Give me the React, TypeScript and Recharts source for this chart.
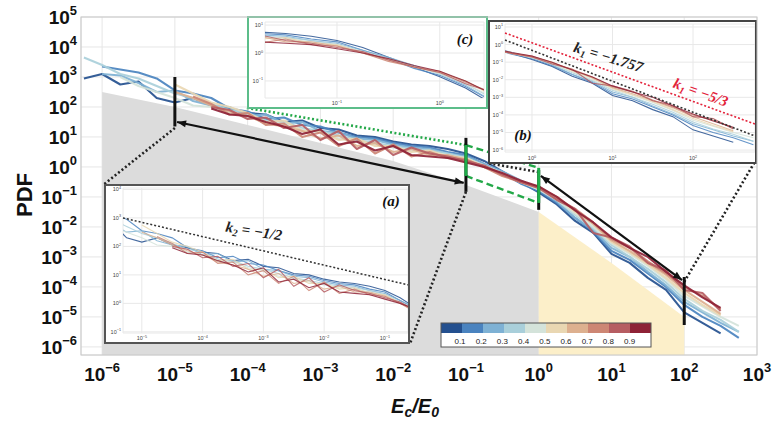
import React from "react";
import {
  ComposedChart, LineChart, Line, Area, XAxis, YAxis, CartesianGrid, ReferenceLine,
} from "recharts";

// log10(Ec/E0) sampling grid
const LOG_E = [-6.25, -6, -5.75, -5.5, -5.25, -5, -4.75, -4.5, -4.25, -4, -3.75, -3.5, -3.25, -3, -2.75, -2.5, -2.25, -2, -1.75, -1.5, -1.25, -1, -0.75, -0.5, -0.25, 0, 0.25, 0.5, 0.75, 1, 1.25, 1.5, 1.75, 2, 2.25, 2.5, 2.75, 3];

// log10(PDF) of each curve, ordered like the colorbar (blue -> red)
const P0 = [2.95, 3.1, 2.75, 2.85, 2.3, 2.15, 2.3, 2.05, 1.95, 1.8, 1.75, 1.5, 1.55, 1.3, 1.25, 1.05, 1.0, 0.85, 0.75, 0.7, 0.6, 0.45, 0.2, -0.15, -0.5, -0.85, -1.25, -1.8, -2.2, -2.9, -3.2, -3.7, -4.1, -4.85, -5.2, -5.55, null, null];
const P1 = [null, 3.35, 3.25, 3.15, 2.95, 2.55, 2.45, 2.3, 1.95, 1.85, 1.6, 1.65, 1.4, 1.35, 1.15, 1.0, 0.95, 0.8, 0.7, 0.65, 0.5, 0.4, 0.1, -0.2, -0.55, -0.8, -1.2, -1.7, -2.15, -2.8, -3.1, -3.55, -4.0, -4.6, -5.0, -5.3, -5.7, null];
const P2 = [null, 3.1, 3.05, 2.8, 2.5, 2.55, 2.2, 2.05, 2.0, 1.7, 1.75, 1.45, 1.5, 1.2, 1.15, 0.95, 0.9, 0.75, 0.65, 0.6, 0.45, 0.35, 0.1, -0.15, -0.45, -0.75, -1.15, -1.7, -2.1, -2.7, -3.0, -3.5, -3.95, -4.5, -4.85, -5.2, -5.5, null];
const P3 = [3.65, 3.4, 3.1, 2.95, 2.7, 2.45, 2.3, 2.1, 1.9, 1.8, 1.55, 1.5, 1.3, 1.2, 1.05, 0.9, 0.8, 0.7, 0.6, 0.55, 0.45, 0.3, 0.05, -0.2, -0.45, -0.75, -1.1, -1.6, -2.05, -2.6, -3.0, -3.4, -3.85, -4.4, -4.8, -5.1, -5.5, null];
const P4 = [null, null, 3.0, 2.7, 2.5, 2.3, 2.05, 2.0, 1.8, 1.7, 1.5, 1.45, 1.25, 1.15, 0.95, 0.85, 0.75, 0.65, 0.55, 0.5, 0.4, 0.3, 0.05, -0.2, -0.5, -0.75, -1.1, -1.55, -2.0, -2.55, -2.9, -3.3, -3.75, -4.3, -4.65, -5.0, -5.3, null];
const P5 = [null, null, null, null, null, 2.75, 2.45, 2.15, 2.0, 1.8, 1.5, 1.55, 1.2, 1.2, 0.9, 0.95, 0.7, 0.7, 0.5, 0.55, 0.35, 0.3, 0.0, -0.25, -0.5, -0.7, -1.0, -1.5, -1.9, -2.5, -2.85, -3.25, -3.7, -4.2, -4.6, -4.95, null, null];
const P6 = [null, null, null, null, null, 2.5, 2.3, 2.05, 1.85, 1.7, 1.45, 1.35, 1.2, 0.95, 1.05, 0.7, 0.8, 0.5, 0.6, 0.4, 0.4, 0.25, 0.0, -0.25, -0.5, -0.7, -1.0, -1.45, -1.9, -2.45, -2.8, -3.2, -3.6, -4.1, -4.5, -4.9, null, null];
const P7 = [null, null, null, null, null, null, 2.35, 2.1, 1.75, 1.8, 1.4, 1.45, 1.0, 1.15, 0.7, 0.95, 0.45, 0.75, 0.35, 0.5, 0.3, 0.25, 0.0, -0.3, -0.5, -0.65, -1.05, -1.4, -1.85, -2.4, -2.7, -3.15, -3.55, -4.0, -4.3, -4.75, null, null];
const P8 = [null, null, null, null, null, null, null, 2.0, 1.9, 1.6, 1.65, 1.3, 1.4, 0.9, 1.2, 0.6, 0.9, 0.4, 0.65, 0.45, 0.35, 0.2, 0.05, -0.25, -0.5, -0.7, -1.1, -1.4, -2.2, -2.35, -2.65, -3.2, -3.45, -4.1, -4.2, -4.8, null, null];
const P9 = [null, null, null, null, null, null, null, 1.95, 1.75, 1.7, 1.5, 1.35, 1.1, 1.25, 0.75, 0.85, 0.55, 0.7, 0.4, 0.35, 0.3, 0.15, 0.0, -0.2, -0.45, -0.65, -1.0, -1.45, -1.85, -2.35, -2.7, -3.0, -3.5, -3.95, -4.35, -4.7, null, null];
const SERIES = [P0, P1, P2, P3, P4, P5, P6, P7, P8, P9];

const COLORS = ["#24508f", "#4a83bf", "#7eb1d4", "#a9cfda", "#d4e3da", "#e9d7b2", "#ddb08f", "#cd8674", "#b65d62", "#8e2236"];
const CB_LABELS = ["0.1", "0.2", "0.3", "0.4", "0.5", "0.6", "0.7", "0.8", "0.9"];

// upper edge of the grey (x <= 0) and yellow (0 <= x <= 2) bands
const SHADE_E = [-6, -5, -4, -3, -2, -1, 0, 1, 2];
const SHADE_TOP = [2.5, 2.0, 1.4, 0.8, 0.2, -0.6, -1.5, -3.2, -5.0];

const X_TICKS = [-6, -5, -4, -3, -2, -1, 0, 1, 2, 3];
const Y_TICKS = [-6, -5, -4, -3, -2, -1, 0, 1, 2, 3, 4, 5];

const rows = LOG_E.map((x, i) => {
  const r: any = { x };
  SERIES.forEach((s, k) => { r[`s${k}`] = s[i]; });
  const j = SHADE_E.indexOf(x);
  if (j >= 0) {
    if (x <= 0) r.gray = SHADE_TOP[j];
    if (x >= 0) r.yellow = SHADE_TOP[j];
  }
  return r;
});

const SANS = "'Liberation Sans', Arial, sans-serif";
const SERIF = "'Liberation Serif', 'DejaVu Serif', serif";
const exp = (n: number) => (n < 0 ? "\u2212" + Math.abs(n) : String(n));

const makeXTick = (baseY: number, fs: number, fill: string, bold: boolean) => (p: any) => (
  <text x={p.x} y={baseY} textAnchor="middle" fontSize={fs} fontWeight={bold ? 700 : 400} fill={fill} fontFamily={SANS}>
    <tspan>10</tspan>
    <tspan dy={-fs * 0.45} fontSize={fs * 0.68}>{exp(p.payload.value)}</tspan>
  </text>
);
const makeYTick = (rightX: number, fs: number, fill: string, bold: boolean) => (p: any) => (
  <text x={rightX} y={p.y + fs * 0.36} textAnchor="end" fontSize={fs} fontWeight={bold ? 700 : 400} fill={fill} fontFamily={SANS}>
    <tspan>10</tspan>
    <tspan dy={-fs * 0.45} fontSize={fs * 0.68}>{exp(p.payload.value)}</tspan>
  </text>
);

const Arrow = (p: any) => {
  const { x1, y1, x2, y2 } = p;
  const a = Math.atan2(y2 - y1, x2 - x1);
  const head = (x: number, y: number, d: number) => {
    const L = 9, Wd = 3.5;
    const bx = x - d * L * Math.cos(a), by = y - d * L * Math.sin(a);
    const nx = -Math.sin(a) * Wd, ny = Math.cos(a) * Wd;
    return `${x},${y} ${bx + nx},${by + ny} ${bx - nx},${by - ny}`;
  };
  return (
    <g>
      <line x1={x1} y1={y1} x2={x2} y2={y2} stroke="#111" strokeWidth={2.2} />
      <polygon points={head(x1, y1, -1)} fill="#111" />
      <polygon points={head(x2, y2, 1)} fill="#111" />
    </g>
  );
};

const MARKERS = [[-5, 3.0, 1.35], [-1, 0.97, -0.83], [0, -0.1, -1.43], [2, -3.67, -5.27]];
const GREEN_BARS = [[-1, 0.73, -0.3], [0, -0.03, -1.2]];

type InsetProps = {
  box: [number, number, number, number];
  border: string;
  xDomain: [number, number];
  yDomain: [number, number];
  xTicks: number[];
  yTicks: number[];
  yAxisW: number;
  xAxisH: number;
  mTop: number;
  mRight: number;
  labelY: number;
  children?: React.ReactNode;
};

function Inset({ box, border, xDomain, yDomain, xTicks, yTicks, yAxisW, xAxisH, mTop, mRight, labelY, children }: InsetProps) {
  const [l, t, w, h] = box;
  return (
    <div style={{ position: "absolute", left: l, top: t, width: w, height: h, border: `2px solid ${border}`, background: "#fff", boxSizing: "border-box" }}>
      <LineChart width={w - 4} height={h - 4} data={rows} margin={{ top: mTop, right: mRight, bottom: 0, left: 0 }}>
        <CartesianGrid stroke="#e8e8e8" />
        <XAxis type="number" dataKey="x" domain={xDomain} allowDataOverflow ticks={xTicks} interval={0}
          tickLine={false} axisLine={false} height={xAxisH} tick={makeXTick(labelY, 5.5, "#444", false)} />
        <YAxis type="number" domain={yDomain} allowDataOverflow ticks={yTicks} interval={0}
          tickLine={false} axisLine={false} width={yAxisW} tick={makeYTick(yAxisW - 2, 5.5, "#444", false)} />
        {SERIES.map((_, k) => (
          <Line key={k} dataKey={`s${k}`} type="linear" stroke={COLORS[k]} strokeWidth={1.1} strokeOpacity={0.85}
            dot={false} isAnimationActive={false} />
        ))}
        {children}
      </LineChart>
    </div>
  );
}

export default function App() {
  const dotted = { stroke: "#222", strokeWidth: 2.6, strokeDasharray: "2 2.4", ifOverflow: "visible" as const };
  return (
    <div style={{ position: "absolute", left: 0, top: 0, width: 776, height: 422, background: "#fff", fontFamily: SANS }}>
      <ComposedChart width={776} height={422} data={rows} margin={{ top: 17, right: 19, bottom: 27, left: 11 }}>
        <XAxis type="number" dataKey="x" domain={[-6.29, 3]} allowDataOverflow ticks={X_TICKS} interval={0}
          tickLine={false} axisLine={false} height={40} tick={makeXTick(381, 19, "#111", true)} />
        <YAxis type="number" domain={[-6.27, 5]} allowDataOverflow ticks={Y_TICKS} interval={0}
          tickLine={false} axisLine={false} width={70} tick={makeYTick(77, 19, "#111", true)} />
        <Area dataKey="gray" type="linear" stroke="none" fill="#dcdcdc" fillOpacity={1} baseValue={-6.27}
          connectNulls isAnimationActive={false} />
        <Area dataKey="yellow" type="linear" stroke="none" fill="#fcefc9" fillOpacity={1} baseValue={-6.27}
          connectNulls isAnimationActive={false} />
        <CartesianGrid stroke="#e6e6e6" />
        {SERIES.map((_, k) => (
          <Line key={k} dataKey={`s${k}`} type="linear" stroke={COLORS[k]} strokeWidth={2.1} strokeOpacity={0.92}
            strokeLinejoin="round" dot={false} isAnimationActive={false} />
        ))}
        {/* zoom connectors */}
        <ReferenceLine segment={[{ x: -5, y: 1.3 }, { x: -5.97, y: -0.57 }]} {...dotted} />
        <ReferenceLine segment={[{ x: -1, y: -0.83 }, { x: -1.77, y: -5.9 }]} {...dotted} />
        <ReferenceLine segment={[{ x: 2, y: -3.83 }, { x: 2.96, y: 0.13 }]} {...dotted} />
        <ReferenceLine segment={[{ x: 0, y: -0.17 }, { x: -0.7, y: 0.13 }]} {...dotted} />
        <ReferenceLine segment={[{ x: -4.01, y: 1.97 }, { x: -1, y: 0.73 }]} stroke="#23a848" strokeWidth={2.6} strokeDasharray="2 2.4" ifOverflow="visible" />
        <ReferenceLine segment={[{ x: -1, y: 0.73 }, { x: 0, y: -0.03 }]} stroke="#23a848" strokeWidth={2.4} strokeDasharray="7 4" ifOverflow="visible" />
        <ReferenceLine segment={[{ x: -1, y: -0.3 }, { x: 0, y: -1.2 }]} stroke="#23a848" strokeWidth={2.4} strokeDasharray="7 4" ifOverflow="visible" />
        {MARKERS.map(([x, a, b], i) => (
          <ReferenceLine key={`m${i}`} segment={[{ x, y: a }, { x, y: b }]} stroke="#111" strokeWidth={3} ifOverflow="visible" />
        ))}
        {GREEN_BARS.map(([x, a, b], i) => (
          <ReferenceLine key={`g${i}`} segment={[{ x, y: a }, { x, y: b }]} stroke="#1fae4a" strokeWidth={3} ifOverflow="visible" />
        ))}
        <ReferenceLine segment={[{ x: -4.97, y: 1.5 }, { x: -1.03, y: -0.53 }]} ifOverflow="visible" shape={Arrow} />
        <ReferenceLine segment={[{ x: 0.03, y: -0.3 }, { x: 1.97, y: -3.77 }]} ifOverflow="visible" shape={Arrow} />
      </ComposedChart>

      {/* (a) */}
      <Inset box={[104, 184, 306, 160]} border="#555" xDomain={[-5.31, -0.62]} yDomain={[-1.04, 4.05]}
        xTicks={[-5, -4, -3, -2, -1]} yTicks={[-1, 0, 1, 2, 3, 4]} yAxisW={17} xAxisH={9} mTop={2} mRight={0} labelY={154}>
        <ReferenceLine segment={[{ x: -5.31, y: 3 }, { x: -0.62, y: 0.65 }]} stroke="#333" strokeWidth={1.5} strokeDasharray="2 2" ifOverflow="visible" />
      </Inset>
      {/* (b) */}
      <Inset box={[488, 20, 269, 144]} border="#444" xDomain={[-0.335, 2.77]} yDomain={[-6.11, 1.17]}
        xTicks={[0, 1, 2]} yTicks={[-6, -5, -4, -3, -2, -1, 0, 1]} yAxisW={15} xAxisH={10} mTop={2} mRight={0} labelY={138}>
        <ReferenceLine segment={[{ x: -0.335, y: 0.66 }, { x: 2.77, y: -4.52 }]} stroke="#e3223a" strokeWidth={1.6} strokeDasharray="2 2" ifOverflow="visible" />
        <ReferenceLine segment={[{ x: -0.335, y: 0.26 }, { x: 2.77, y: -5.2 }]} stroke="#333" strokeWidth={1.6} strokeDasharray="2 2" ifOverflow="visible" />
      </Inset>
      {/* (c) */}
      <Inset box={[247, 16, 241, 93]} border="#5cbd8a" xDomain={[-1.7, 0.43]} yDomain={[-1.61, 1.11]}
        xTicks={[-1, 0]} yTicks={[-1, 0, 1]} yAxisW={16} xAxisH={9} mTop={4} mRight={2} labelY={87} />

      <svg width={776} height={422} style={{ position: "absolute", left: 0, top: 0, pointerEvents: "none" }}>
        <rect x={81} y={17} width={676} height={338} fill="none" stroke="#c8c8c8" />
        <text transform="translate(32,195) rotate(-90)" textAnchor="middle" fontSize={22} fontWeight={700} fill="#111" fontFamily={SANS}>PDF</text>
        <text x={415} y={413} textAnchor="middle" fontSize={20} fontWeight={700} fontStyle="italic" fill="#111" fontFamily={SANS}>
          E<tspan fontSize={14} dy={4}>c</tspan><tspan dy={-4}>/E</tspan><tspan fontSize={14} dy={4}>0</tspan>
        </text>

        <text x={391} y={206} textAnchor="middle" fontSize={15} fontWeight={700} fontStyle="italic" fill="#111" fontFamily={SERIF}>(a)</text>
        <text x={523} y={140} textAnchor="middle" fontSize={15} fontWeight={700} fontStyle="italic" fill="#111" fontFamily={SERIF}>(b)</text>
        <text x={465} y={44} textAnchor="middle" fontSize={15} fontWeight={700} fontStyle="italic" fill="#111" fontFamily={SERIF}>(c)</text>

        <text transform="translate(253,236) rotate(9)" textAnchor="middle" fontSize={15} fontWeight={700} fontStyle="italic" fill="#222" fontFamily={SERIF}>
          k<tspan fontSize={10} dy={3}>2</tspan><tspan dy={-3}> = −1/2</tspan>
        </text>
        <text transform="translate(607,62) rotate(17)" textAnchor="middle" fontSize={15} fontWeight={700} fontStyle="italic" fill="#222" fontFamily={SERIF}>
          k<tspan fontSize={10} dy={3}>1</tspan><tspan dy={-3}> = −1.757</tspan>
        </text>
        <text transform="translate(699,97) rotate(20)" textAnchor="middle" fontSize={15} fontWeight={700} fontStyle="italic" fill="#e3223a" fontFamily={SERIF}>
          k<tspan fontSize={10} dy={3}>1</tspan><tspan dy={-3}> = −5/3</tspan>
        </text>

        {/* colorbar */}
        <rect x={441} y={323} width={210} height={24} fill="#fff" />
        {COLORS.map((c, i) => (
          <rect key={c} x={441 + i * 21} y={323} width={21} height={10} fill={c} />
        ))}
        <rect x={441} y={323} width={210} height={24} fill="none" stroke="#555" />
        {CB_LABELS.map((t, i) => (
          <text key={t} x={460 + i * 21.2} y={344} textAnchor="middle" fontSize={8} fill="#222" fontFamily={SANS}>{t}</text>
        ))}
      </svg>
    </div>
  );
}
